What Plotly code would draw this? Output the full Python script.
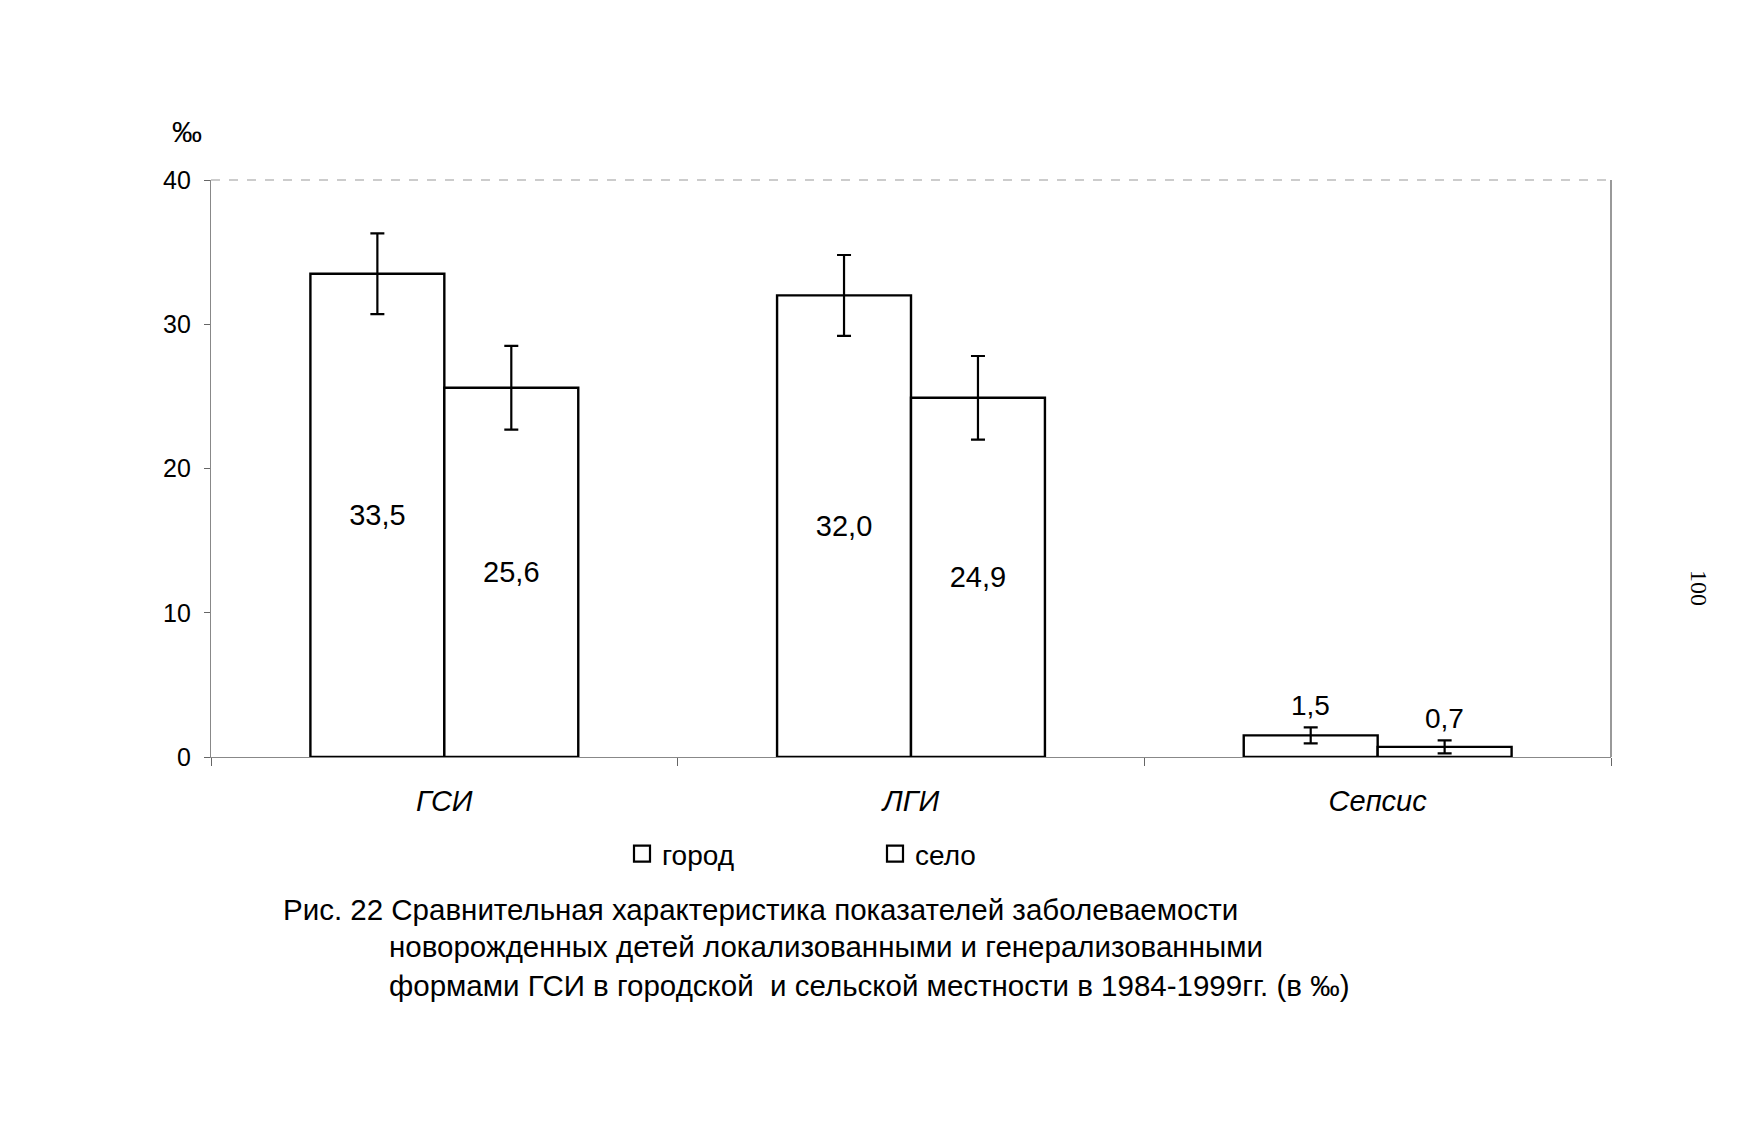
import plotly.graph_objects as go

categories = ["ГСИ", "ЛГИ", "Сепсис"]
city_values = [33.5, 32.0, 1.5]
rural_values = [25.6, 24.9, 0.7]
city_err = [2.8, 2.8, 0.55]
rural_err = [2.9, 2.9, 0.45]
series_names = ["город", "село"]
y_ticks = [0, 10, 20, 30, 40]
caption_lines = [
    "Рис. 22 Сравнительная характеристика показателей заболеваемости",
    "новорожденных детей локализованными и генерализованными",
    "формами ГСИ в городской  и сельской местности в 1984-1999гг. (в ‰)",
]

FONT = "Liberation Sans"

# page geometry (body margin of 8px)
OFF = 8
W, H = 1745, 1122
PL, PR, PT, PB = 211, 1611, 180, 757   # plot area in page pixels
L = PL - OFF
R = W + OFF - PR
T = PT - OFF
B = H + OFF - PB
pw, ph = PR - PL, PB - PT


def px(xp):
    return (xp - PL) / pw


def py(yp):
    return (PB - yp) / ph


def fmt(v):
    return f"{v:.1f}".replace(".", ",")


def inside_text(vals):
    return [fmt(v) if v >= 5 else "" for v in vals]


fig = go.Figure()
for name, vals, errs in [(series_names[0], city_values, city_err),
                         (series_names[1], rural_values, rural_err)]:
    fig.add_trace(go.Bar(
        name=name, x=categories, y=vals, showlegend=False,
        marker=dict(color="white", line=dict(color="black", width=2.4)),
        error_y=dict(type="data", array=errs, visible=True, color="black",
                     thickness=2.2, width=7),
        text=inside_text(vals), textposition="inside", insidetextanchor="middle",
        textfont=dict(family=FONT, size=29, color="black"),
        textangle=0,
    ))
# legend entries (open squares like the original)
for name in series_names:
    fig.add_trace(go.Scatter(
        name=name, x=[None], y=[None], mode="markers",
        marker=dict(symbol="square-open", size=16, color="black", line=dict(width=2.2)),
    ))

annotations = []
for vals, errs, shift in [(city_values, city_err, -67), (rural_values, rural_err, 67)]:
    for c, v, e in zip(categories, vals, errs):
        if v < 5:
            annotations.append(dict(x=c, y=v + e, xref="x", yref="y", text=fmt(v),
                                    showarrow=False, yanchor="bottom", xshift=shift,
                                    yshift=4, font=dict(family=FONT, size=28, color="black")))

annotations.append(dict(x=px(187), y=py(131), xref="paper", yref="paper", text="‰",
                        showarrow=False, xanchor="center", yanchor="middle",
                        font=dict(family=FONT, size=30, color="black")))
annotations.append(dict(x=px(1699), y=py(588), xref="paper", yref="paper", text="100",
                        showarrow=False, textangle=90, xanchor="center", yanchor="middle",
                        font=dict(family="Liberation Serif", size=24, color="black")))
annotations.append(dict(x=px(281), y=py(909), xref="paper", yref="paper", text=caption_lines[0],
                        showarrow=False, xanchor="left", yanchor="middle",
                        font=dict(family=FONT, size=29.5, color="black")))
for i, line in enumerate(caption_lines[1:]):
    annotations.append(dict(x=px(387), y=py(947 + 38 * i), xref="paper", yref="paper", text=line,
                            showarrow=False, xanchor="left", yanchor="middle",
                            font=dict(family=FONT, size=29.5, color="black")))

fig.update_layout(
    width=W, height=H,
    margin=dict(l=L, r=R, t=T, b=B),
    paper_bgcolor="white", plot_bgcolor="white",
    barmode="group", bargap=0.426, bargroupgap=0,
    font=dict(family=FONT, size=24, color="black"),
    showlegend=True,
    legend=dict(orientation="h", x=px(622), y=py(854), xanchor="left", yanchor="middle",
                font=dict(family=FONT, size=28, color="black"),
                entrywidth=208, entrywidthmode="pixels", itemwidth=30,
                traceorder="normal", itemsizing="trace", bgcolor="rgba(0,0,0,0)"),
    annotations=annotations,
    shapes=[
        dict(type="line", xref="paper", yref="paper", x0=0, x1=1, y0=1, y1=1,
             line=dict(color="#999999", width=1.2, dash="dash")),
        dict(type="line", xref="paper", yref="paper", x0=1, x1=1, y0=0, y1=1,
             line=dict(color="#777777", width=1.5)),
    ],
)
fig.update_xaxes(
    showline=True, linecolor="#888888", linewidth=1.2,
    ticks="outside", tickson="boundaries", ticklen=8, tickcolor="#666666",
    tickfont=dict(family=FONT, size=29, color="black", style="italic"),
    ticklabelstandoff=18, showgrid=False,
)
fig.update_yaxes(
    range=[0, 40], tickvals=y_ticks, showline=True, linecolor="#888888", linewidth=1.2,
    ticks="outside", ticklen=6, tickcolor="#666666", showgrid=False, zeroline=False,
    tickfont=dict(family=FONT, size=25, color="black"), ticklabelstandoff=8,
)

fig.write_html("out.html")
